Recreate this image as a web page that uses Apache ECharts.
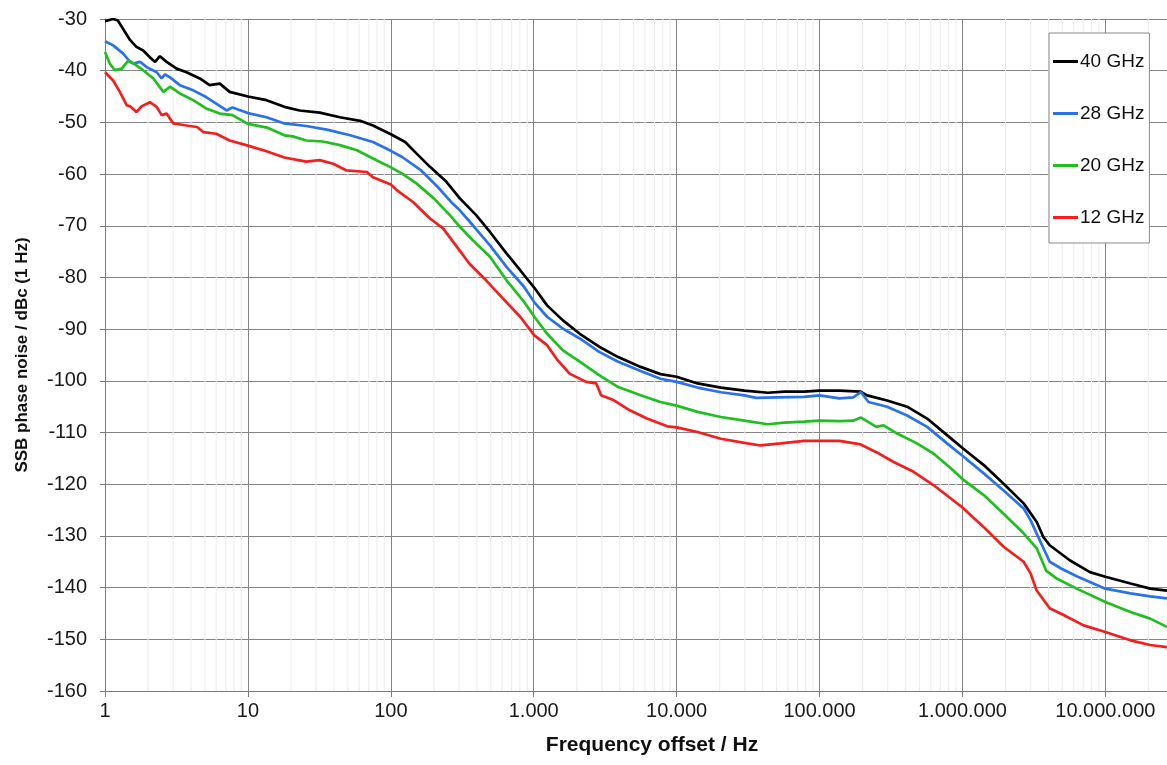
<!DOCTYPE html>
<html>
<head>
<meta charset="utf-8">
<script src="https://cdn.jsdelivr.net/npm/echarts@6/dist/echarts.min.js"></script>
<style>
html,body{margin:0;padding:0;background:#fff;}
#chart{width:1167px;height:765px;}
</style>
</head>
<body>
<div id="chart"></div>
<script>
// ---- data: [frequency offset (Hz), SSB phase noise (dBc/Hz)] ----
const seriesNames = ['40 GHz', '28 GHz', '20 GHz', '12 GHz'];

const noise40GHz = [[1,-30.4],[1.14,-30],[1.23,-30.3],[1.38,-32.5],[1.5,-34.1],[1.66,-35.4],[1.85,-36.1],[2.06,-37.4],[2.24,-38.3],[2.42,-37.2],[2.7,-38.3],[3.17,-39.6],[3.72,-40.3],[4.6,-41.5],[5.4,-42.8],[6.36,-42.5],[7.45,-44.1],[10,-45],[13.5,-45.7],[18.6,-47.1],[23,-47.7],[31.8,-48.1],[44,-49],[61,-49.7],[75,-50.6],[100,-52.3],[126,-53.8],[151,-56],[188,-58.6],[245,-61.5],[304,-64.7],[397,-68],[494,-71.2],[647,-75.4],[804,-78.6],[1010,-82],[1240,-85.4],[1600,-88.3],[2100,-90.9],[2870,-93.4],[3900,-95.4],[5600,-97.3],[7700,-98.7],[10000,-99.2],[14000,-100.5],[20400,-101.3],[29800,-101.9],[43400,-102.3],[56700,-102.1],[78000,-102.1],[100000,-101.9],[138000,-101.9],[194000,-102.1],[215000,-102.8],[297000,-103.8],[410000,-105],[566000,-107.3],[780000,-110.5],[1000000,-113],[1410000,-116.3],[1940000,-119.9],[2680000,-123.7],[3310000,-127.3],[3680000,-130.2],[4080000,-131.8],[5630000,-134.7],[7800000,-137],[10000000,-137.9],[15000000,-139.2],[20600000,-140.2],[27000000,-140.6]];

const noise28GHz = [[1,-34.3],[1.14,-35.1],[1.34,-36.7],[1.5,-38.3],[1.58,-38.6],[1.76,-38.3],[1.96,-39.3],[2.3,-40.3],[2.49,-41.5],[2.63,-40.7],[2.85,-41.3],[3.34,-42.8],[4.14,-43.8],[5.1,-45.1],[7.1,-47.7],[7.8,-47.1],[10,-48.2],[13.5,-49],[18,-50.2],[25.6,-50.7],[35.6,-51.4],[52,-52.5],[75,-53.8],[100,-55.5],[120,-56.7],[163,-59.3],[213,-62.5],[271,-65.7],[304,-67],[375,-69.9],[494,-73.8],[647,-78],[855,-81.8],[1010,-84.8],[1240,-87.6],[1600,-89.9],[2100,-91.8],[2870,-94.4],[3900,-96.3],[5600,-98.1],[7700,-99.6],[10000,-100.2],[14000,-101.3],[20400,-102.2],[29800,-102.8],[36000,-103.3],[50000,-103.2],[78000,-103.1],[100000,-102.8],[138000,-103.4],[172000,-103.2],[195000,-102.2],[220000,-104.1],[297000,-105],[410000,-106.7],[566000,-108.9],[780000,-112.1],[1000000,-114.5],[1410000,-117.9],[1940000,-121.2],[2680000,-124.7],[3000000,-127],[3300000,-129.5],[4080000,-135],[4900000,-136.3],[6300000,-137.8],[10000000,-140.2],[15000000,-141.1],[20600000,-141.7],[27000000,-142.1]];

const noise20GHz = [[1,-36.4],[1.08,-38.6],[1.17,-39.9],[1.31,-39.6],[1.46,-38],[1.58,-38.6],[1.85,-39.9],[2.18,-41.5],[2.56,-44.1],[2.85,-43.1],[3.34,-44.4],[4.14,-45.7],[5.1,-47.3],[6.36,-48.3],[7.8,-48.6],[10,-50.3],[13.6,-51],[18,-52.5],[20.6,-52.7],[25.6,-53.5],[33.5,-53.7],[44,-54.4],[58,-55.4],[75,-57],[100,-58.7],[120,-59.9],[151,-61.8],[200,-64.7],[260,-68],[304,-70.2],[375,-72.8],[494,-76],[647,-80.6],[855,-84.7],[1010,-87.6],[1240,-90.9],[1600,-94.1],[2100,-96.3],[2870,-98.9],[3900,-101.2],[5600,-102.8],[7700,-104.1],[10000,-104.8],[14000,-106],[20400,-107],[29800,-107.7],[43400,-108.4],[56700,-108.1],[78000,-107.9],[100000,-107.7],[138000,-107.8],[172000,-107.7],[195000,-107.1],[220000,-108],[250000,-108.9],[280000,-108.6],[350000,-110.2],[480000,-112.1],[630000,-114.1],[860000,-117.3],[1000000,-119],[1410000,-122.1],[1940000,-125.7],[2680000,-129.5],[3310000,-132.4],[3850000,-136.7],[4600000,-138.3],[6300000,-140.2],[10000000,-142.8],[15000000,-144.7],[20600000,-146],[27000000,-147.6]];

const noise12GHz = [[1,-40.3],[1.14,-41.9],[1.27,-44.1],[1.42,-46.7],[1.5,-46.9],[1.66,-48],[1.8,-46.9],[2.06,-46.1],[2.3,-47],[2.49,-48.6],[2.7,-48.3],[3,-50.2],[3.72,-50.6],[4.4,-50.9],[4.9,-51.9],[6,-52.2],[7.45,-53.5],[10,-54.5],[13.5,-55.6],[18,-56.8],[25.6,-57.6],[31.8,-57.3],[39.5,-58],[49,-59.3],[68,-59.6],[75,-60.6],[100,-62],[110,-63.1],[143,-65.4],[188,-68.6],[232,-70.5],[285,-73.8],[354,-77.3],[466,-80.6],[610,-84.1],[804,-87.6],[1010,-91.2],[1240,-93.1],[1470,-96],[1780,-98.6],[2330,-100.2],[2740,-100.5],[2960,-102.8],[3600,-103.7],[4700,-105.7],[6200,-107.3],[8600,-108.8],[10000,-109],[14000,-109.9],[20400,-111.2],[29800,-112],[38700,-112.5],[53400,-112.1],[78000,-111.6],[100000,-111.6],[138000,-111.6],[194000,-112.3],[250000,-113.8],[330000,-115.7],[455000,-117.6],[630000,-120.2],[860000,-123.1],[1000000,-124.5],[1410000,-128.3],[1940000,-132.1],[2680000,-135],[3000000,-137.3],[3300000,-140.5],[4080000,-144],[5100000,-145.3],[7050000,-147.3],[10000000,-148.6],[15000000,-150.2],[20600000,-151.1],[27000000,-151.5]];

// minor (2..9 per decade) grid positions on the log frequency axis
const minorTicks = [2,3,4,5,6,7,8,9,20,30,40,50,60,70,80,90,200,300,400,500,600,700,800,900,
  2000,3000,4000,5000,6000,7000,8000,9000,20000,30000,40000,50000,60000,70000,80000,90000,
  200000,300000,400000,500000,600000,700000,800000,900000,
  2000000,3000000,4000000,5000000,6000000,7000000,8000000,9000000,20000000];

const xMin = 1, xMax = 27000000;
const yMin = -160, yMax = -30, yStep = 10;

const seriesData = [noise40GHz, noise28GHz, noise20GHz, noise12GHz];
const seriesColors = ['#000000', '#2a72ea', '#1fbf1f', '#f51e1e'];

const FONT = '"Liberation Sans", Arial, Helvetica, sans-serif';

function fmtFreq(v) {
  const l = Math.log10(v);
  const e = Math.round(l);
  if (Math.abs(l - e) > 1e-6) return '';
  const n = Math.pow(10, e);
  return n.toFixed(0).replace(/\B(?=(\d{3})+(?!\d))/g, '.');
}

const chart = echarts.init(document.getElementById('chart'));

const series = [{
  type: 'custom',
  name: 'minor',
  silent: true,
  z: 1,
  animation: false,
  data: minorTicks.map(v => [v, yMin]),
  encode: { x: 0, y: 1 },
  renderItem: function (params, api) {
    const x = api.coord([api.value(0), yMin])[0];
    const cs = params.coordSys;
    return {
      type: 'line',
      shape: { x1: x, y1: cs.y, x2: x, y2: cs.y + cs.height },
      style: { stroke: '#ededed', lineWidth: 1 }
    };
  }
}];

seriesNames.forEach((name, i) => {
  series.push({
    type: 'line',
    name: name,
    data: seriesData[i],
    symbol: 'none',
    showSymbol: false,
    smooth: false,
    z: 3 + i,
    clip: true,
    lineStyle: { color: seriesColors[i], width: 2.7 },
    itemStyle: { color: seriesColors[i] },
    animation: false
  });
});

chart.setOption({
  backgroundColor: '#ffffff',
  animation: false,
  grid: { left: 105, right: 0, top: 19, bottom: 74, containLabel: false },
  legend: {
    data: seriesNames,
    orient: 'vertical',
    left: 1049,
    top: 33,
    padding: [19, 5, 16, 4],
    itemGap: 33,
    itemWidth: 25,
    itemHeight: 3,
    icon: 'rect',
    backgroundColor: '#ffffff',
    borderColor: '#8a8a8a',
    borderWidth: 1,
    borderRadius: 0,
    textStyle: { fontFamily: FONT, fontSize: 19, color: '#111111', padding: [0, 0, 0, -3] },
    selectedMode: false
  },
  xAxis: {
    type: 'log',
    logBase: 10,
    min: xMin,
    max: xMax,
    name: 'Frequency offset / Hz',
    nameLocation: 'middle',
    nameGap: 44,
    nameTextStyle: { fontFamily: FONT, fontSize: 21, fontWeight: 'bold', color: '#111111', padding: [0, 0, 0, 32] },
    axisLine: { show: true, onZero: false, lineStyle: { color: '#7a7a7a', width: 1 } },
    axisTick: { show: true, length: 6, lineStyle: { color: '#7a7a7a' } },
    axisLabel: { fontFamily: FONT, fontSize: 20, color: '#1a1a1a', margin: 10, formatter: fmtFreq, showMaxLabel: false },
    splitLine: { show: true, lineStyle: { color: '#858585', width: 1 } }
  },
  yAxis: {
    type: 'value',
    min: yMin,
    max: yMax,
    interval: yStep,
    name: 'SSB phase noise / dBc (1 Hz)',
    nameLocation: 'middle',
    nameGap: 74,
    nameTextStyle: { fontFamily: FONT, fontSize: 17, fontWeight: 'bold', color: '#111111' },
    axisLine: { show: true, lineStyle: { color: '#7a7a7a', width: 1 } },
    axisTick: { show: true, length: 5, lineStyle: { color: '#7a7a7a' } },
    axisLabel: { fontFamily: FONT, fontSize: 20, color: '#1a1a1a', margin: 18 },
    splitLine: { show: true, lineStyle: { color: '#858585', width: 1 } }
  },
  series: series
});
</script>
</body>
</html>
